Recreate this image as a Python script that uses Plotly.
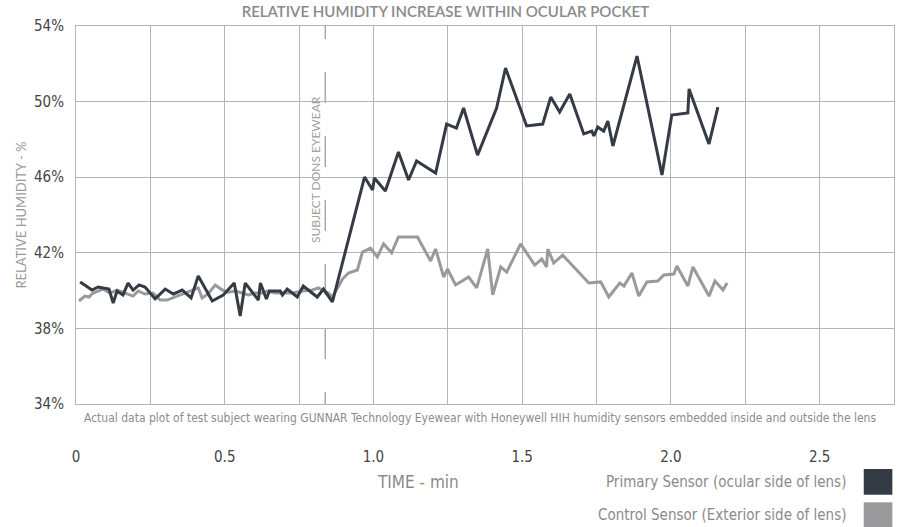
import plotly.graph_objects as go

# ---- data ----
primary_t = [0.014, 0.054, 0.074, 0.111, 0.125, 0.138, 0.158, 0.175, 0.192, 0.212, 0.232, 0.266,
             0.300, 0.327, 0.357, 0.387, 0.411, 0.458, 0.495, 0.532, 0.552, 0.569, 0.613, 0.620,
             0.640, 0.650, 0.687, 0.694, 0.710, 0.744, 0.764, 0.811, 0.832, 0.862, 0.970, 0.997,
             1.003, 1.040, 1.084, 1.118, 1.145, 1.209, 1.246, 1.279, 1.303, 1.350, 1.414, 1.444,
             1.515, 1.569, 1.596, 1.626, 1.660, 1.707, 1.734, 1.741, 1.754, 1.774, 1.788, 1.805,
             1.886, 1.970, 2.003, 2.057, 2.061, 2.128, 2.158]
primary_rh = [40.46, 40.03, 40.19, 40.08, 39.34, 39.98, 39.77, 40.40, 40.03, 40.30, 40.19, 39.56,
              40.08, 39.82, 40.03, 39.61, 40.77, 39.45, 39.77, 40.40, 38.66, 40.40, 39.50, 40.40,
              39.56, 39.98, 39.98, 39.77, 40.08, 39.66, 40.24, 39.66, 40.08, 39.40, 46.01, 45.32,
              45.96, 45.27, 47.33, 45.85, 46.86, 46.22, 48.81, 48.60, 49.66, 47.17, 49.66, 51.78,
              48.71, 48.81, 50.24, 49.45, 50.40, 48.29, 48.44, 48.18, 48.66, 48.44, 48.97, 47.65,
              52.41, 46.12, 49.29, 49.40, 50.67, 47.76, 49.71]

control_t = [0.010, 0.030, 0.044, 0.057, 0.091, 0.114, 0.138, 0.165, 0.192, 0.209, 0.232, 0.259,
             0.283, 0.306, 0.340, 0.367, 0.394, 0.411, 0.424, 0.444, 0.468, 0.492, 0.512, 0.535,
             0.559, 0.579, 0.603, 0.626, 0.643, 0.670, 0.694, 0.727, 0.761, 0.795, 0.815, 0.832,
             0.848, 0.862, 0.896, 0.916, 0.946, 0.963, 0.990, 1.013, 1.034, 1.061, 1.084, 1.148,
             1.192, 1.209, 1.236, 1.249, 1.276, 1.320, 1.347, 1.384, 1.401, 1.428, 1.448, 1.495,
             1.542, 1.566, 1.582, 1.586, 1.606, 1.636, 1.724, 1.764, 1.791, 1.828, 1.842, 1.869,
             1.892, 1.919, 1.956, 1.976, 2.010, 2.020, 2.057, 2.074, 2.128, 2.148, 2.175, 2.189]
control_rh = [39.45, 39.71, 39.66, 39.87, 40.08, 39.87, 40.03, 39.87, 39.71, 39.98, 39.82, 39.87,
              39.50, 39.50, 39.71, 39.87, 40.03, 40.14, 39.61, 39.82, 40.30, 40.03, 39.92, 39.98,
              39.87, 39.77, 39.87, 39.87, 39.98, 39.87, 39.87, 39.87, 39.98, 40.03, 40.14, 39.98,
              39.87, 39.66, 40.61, 40.93, 41.09, 42.04, 42.25, 41.78, 42.47, 42.00, 42.84, 42.84,
              41.57, 42.20, 40.72, 41.14, 40.30, 40.72, 40.14, 42.20, 39.77, 41.25, 40.98, 42.47,
              41.35, 41.67, 41.25, 42.20, 41.46, 41.88, 40.40, 40.46, 39.66, 40.40, 40.24, 40.93,
              39.71, 40.46, 40.51, 40.83, 40.88, 41.30, 40.24, 41.25, 39.71, 40.51, 40.03, 40.40]

x_tick_vals = [0, 0.5, 1.0, 1.5, 2.0, 2.5]
x_tick_text = ["0", "0.5", "1.0", "1.5", "2.0", "2.5"]
y_tick_vals = [34, 38, 42, 46, 50, 54]
y_tick_text = ["34%", "38%", "42%", "46%", "50%", "54%"]
dons_time = 0.838

title_text = "RELATIVE HUMIDITY INCREASE WITHIN OCULAR POCKET"
caption_text = ("Actual data plot of test subject wearing GUNNAR Technology Eyewear with "
                "Honeywell HIH humidity sensors embedded inside and outside the lens")
series_names = ["Primary Sensor (ocular side of lens)", "Control Sensor (Exterior side of lens)"]

DARK = "#343b45"
LIGHT = "#9a9a9c"
GRID = "#b4b4b4"
NARROW = "Liberation Sans Narrow, DejaVu Sans Condensed, Arial Narrow, sans-serif"
WIDE = "Lato, Open Sans, sans-serif"

fig = go.Figure()
fig.add_trace(go.Scatter(x=control_t, y=control_rh, mode="lines", name=series_names[1],
                         line=dict(color=LIGHT, width=3), showlegend=False))
fig.add_trace(go.Scatter(x=primary_t, y=primary_rh, mode="lines", name=series_names[0],
                         line=dict(color=DARK, width=3), showlegend=False))

# "subject dons eyewear" dashed marker
fig.add_shape(type="line", xref="x", yref="y", x0=dons_time, x1=dons_time, y0=54.95, y1=33.0,
              line=dict(color="#a8a8a8", width=1.5, dash="31px,33px"), layer="below")
fig.add_annotation(x=0.805, y=46.4, xref="x", yref="y", text="SUBJECT DONS EYEWEAR",
                   textangle=-90, showarrow=False,
                   font=dict(family=WIDE, size=12, color="#a0a0a0"))

fig.update_layout(
    width=898, height=527,
    margin=dict(l=76, r=4, t=26, b=123),
    paper_bgcolor="white", plot_bgcolor="white",
    title=dict(text=title_text, x=0.496, xanchor="center", y=0.977, yanchor="middle",
               font=dict(family=WIDE, size=15, color="#8a8a8a", weight=600)),
    xaxis=dict(range=[0, 2.75], tickvals=x_tick_vals, ticktext=x_tick_text, automargin=False,
               showgrid=True, gridcolor=GRID, gridwidth=1,
               minor=dict(dtick=0.25, tick0=0, showgrid=True, gridcolor=GRID, gridwidth=1),
               showline=True, linecolor=GRID, linewidth=1, mirror=True,
               zeroline=False, ticks="", ticklabelstandoff=39,
               tickfont=dict(family=NARROW, size=15, color="#444444")),
    yaxis=dict(range=[34, 54], tickvals=y_tick_vals, ticktext=y_tick_text, automargin=False,
               showgrid=True, gridcolor=GRID, gridwidth=1,
               showline=True, linecolor=GRID, linewidth=1, mirror=True,
               zeroline=False, ticks="", ticklabelstandoff=8,
               tickfont=dict(family=NARROW, size=15, color="#444444"),
               title=dict(text="RELATIVE HUMIDITY - %", standoff=4,
                          font=dict(family=WIDE, size=13, color="#9a9a9a"))),
)

fig.add_annotation(x=0.494, y=-0.037, xref="paper", yref="paper", text=caption_text,
                   showarrow=False, xanchor="center", yanchor="middle",
                   font=dict(family=NARROW, size=12, color="#8c8c8c"))
fig.add_annotation(x=0.418, y=-0.206, xref="paper", yref="paper", text="TIME - min",
                   showarrow=False, xanchor="center", yanchor="middle",
                   font=dict(family=NARROW, size=17, color="#8a8a8a"))

# legend: text at left, colour square at right
legend_y = [-0.206, -0.294]
legend_colors = [DARK, LIGHT]
for name, yy, col in zip(series_names, legend_y, legend_colors):
    fig.add_annotation(x=0.944, y=yy, xref="paper", yref="paper", text=name,
                       showarrow=False, xanchor="right", yanchor="middle",
                       font=dict(family=NARROW, size=15, color="#8a8a8a"))
    fig.add_shape(type="rect", xref="paper", yref="paper", x0=0.963, x1=0.998,
                  y0=yy + 0.034, y1=yy - 0.034, fillcolor=col, line=dict(width=0))

fig.write_html("out.html", config={"displayModeBar": False},
               post_script="document.body.style.margin='0';")
